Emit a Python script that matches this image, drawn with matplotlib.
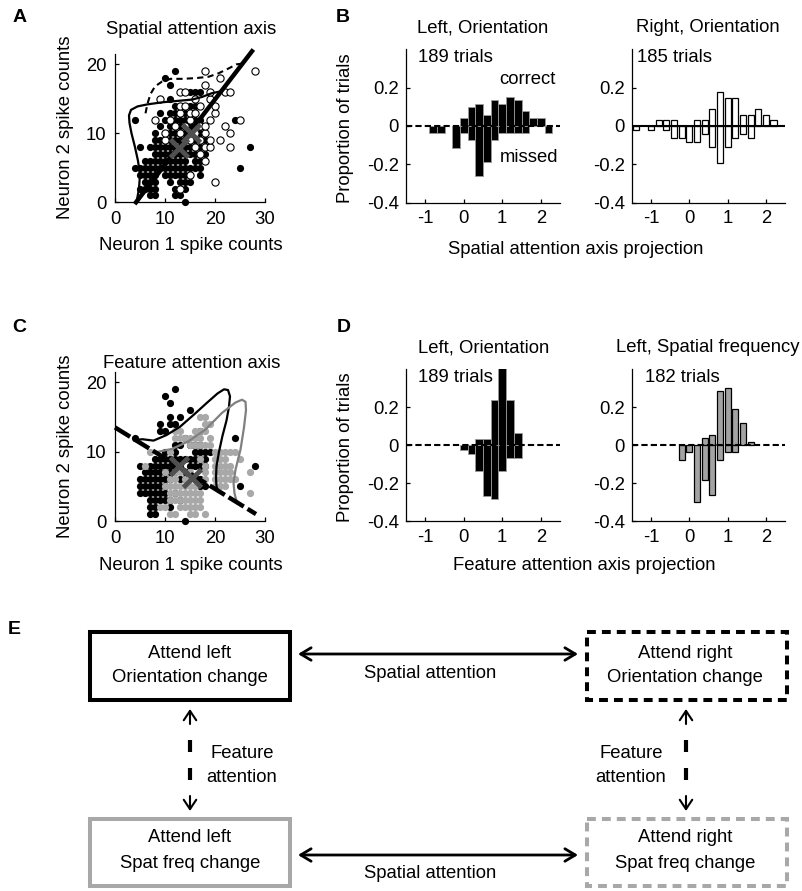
import numpy as np
import matplotlib.pyplot as plt
from matplotlib.patches import Rectangle

plt.rcParams['font.family'] = ['Liberation Sans', 'DejaVu Sans']
plt.rcParams['font.size'] = 13.3
plt.rcParams['axes.unicode_minus'] = False

# ---------------- data ----------------
# scatter A: spike counts as (neuron 2 count, [neuron 1 counts]) rows
a_filled_rows = [
    (0, [14]), (1, [7, 8, 12, 13]), (2, [5, 6, 7, 8, 12, 13, 14]),
    (3, [6, 7, 8, 11, 13, 14, 15]), (4, [5, 6, 7, 8, 10, 11, 12, 13, 14, 15, 17]),
    (5, [4, 5, 6, 7, 8, 9, 10, 11, 12, 13, 14, 15, 16, 17, 25]),
    (6, [6, 7, 8, 9, 10, 11, 12, 13, 14, 16, 17]),
    (7, [8, 9, 10, 11, 12, 13, 14, 15, 16, 18]),
    (8, [5, 7, 8, 9, 10, 11, 12, 13, 14, 15, 17, 19, 27]),
    (9, [8, 9, 10, 11, 12, 13, 14, 16, 17, 18]),
    (10, [8, 10, 11, 12, 13, 14, 15, 17]), (11, [9, 11, 12, 13, 15, 16]),
    (12, [4, 10, 11, 12, 13, 14, 16, 17, 24]), (13, [9, 11, 12, 14, 16]),
    (14, [12, 15, 16]), (15, [9, 11]), (16, [15, 16, 17]),
    (17, [11]), (18, [10]), (19, [12]),
]
a_open_rows = [
    (2, [13]), (3, [20]), (4, [15]), (6, [18]), (7, [17]),
    (8, [16, 18, 19, 23]), (9, [10, 15, 17, 19, 21]),
    (10, [10, 13, 16, 18, 23]), (11, [12, 14, 17, 18, 22]),
    (12, [8, 11, 15, 19, 25]), (13, [13, 15, 16, 20]),
    (14, [13, 14, 17, 20]), (15, [9, 16, 19]),
    (16, [13, 14, 19, 22, 23]), (17, [18]), (18, [21]), (19, [18, 28]),
]
a_axis_x = [4.2, 27.4]
a_axis_y = [0.0, 21.9]
a_solid_x = [4.3, 4.8, 5.0, 4.6, 4.0, 3.3, 2.9, 2.8, 3.2, 4.5, 6.5, 9.5, 12.5, 15.5, 17.5, 19.3, 21.2]
a_solid_y = [0.0, 2.0, 4.0, 6.0, 8.0, 10.0, 11.5, 12.6, 13.4, 13.9, 14.2, 14.5, 14.7, 14.9, 15.3, 15.8, 16.1]
a_dash_x = [6.1, 6.5, 7.1, 8.0, 9.4, 11.1, 13.4, 16.1, 18.7, 20.7, 22.7, 24.3, 25.5]
a_dash_y = [12.9, 14.3, 15.7, 16.8, 17.5, 17.9, 17.9, 18.0, 18.2, 18.7, 19.4, 20.0, 20.1]
a_means_x = [12.7, 15.1]
a_means_y = [7.8, 10.0]

# scatter C
c_black_rows = [
    (0, [14]), (1, [7, 8]), (2, [7, 8, 11]), (3, [7, 8, 9, 10, 11, 13]),
    (4, [5, 6, 7, 8, 9, 10, 12]), (5, [5, 6, 7, 8, 9, 10, 17, 18, 25]),
    (6, [5, 6, 7, 8, 9, 10, 11, 13, 14, 16, 17]),
    (7, [6, 7, 8, 9, 10, 11, 12, 14]),
    (8, [5, 7, 8, 9, 10, 11, 12, 13, 15, 16, 17, 18, 28]),
    (9, [8, 9, 10, 11, 12, 13, 14, 15, 16, 17, 18]),
    (10, [10, 12, 16, 17, 18, 19]), (11, [12, 13, 15, 16, 17]),
    (12, [4, 14, 24]), (13, [9, 10, 17]), (14, [9, 11, 12]),
    (15, [11, 13]), (16, [15]), (17, [11]), (18, [10]), (19, [12]),
]
c_gray_rows = [
    (1, [11, 12, 15, 16, 18]), (2, [9, 10, 13, 14, 15, 16, 17]),
    (3, [11, 12, 13, 14, 15, 16, 17]), (4, [11, 12, 13, 14, 15, 16, 17, 27]),
    (5, [10, 11, 12, 13, 14, 15, 16, 20, 21, 22]),
    (6, [11, 12, 14, 15, 18, 20, 21, 22, 23, 24]),
    (7, [10, 12, 13, 15, 18, 20, 21, 22, 23, 27]),
    (8, [6, 18, 20, 21, 22, 23]), (9, [17, 20, 21, 22, 25]),
    (10, [7, 11, 20, 21, 22, 23, 24]), (11, [15, 16, 17, 18, 19]),
    (12, [12, 13, 14, 15, 16, 17, 19]), (13, [12, 13, 16, 17, 18]),
    (14, [18, 19]), (15, [17, 18]),
]
c_axis_x = [0.0, 28.2]
c_axis_y = [13.5, 1.0]
c_black_x = [4.0, 5.5, 7.7, 10.3, 13.0, 15.7, 18.3, 20.5, 21.8, 22.6, 23.0, 22.8, 22.3, 21.5, 20.8, 20.3, 20.2, 20.3, 20.6]
c_black_y = [11.7, 11.8, 11.6, 12.4, 13.6, 15.3, 17.0, 18.4, 19.0, 18.9, 18.0, 16.5, 14.5, 12.3, 10.0, 7.9, 6.2, 5.0, 4.3]
c_gray_x = [8.0, 11.4, 14.7, 18.1, 21.4, 24.1, 25.4, 26.1, 26.2, 25.8, 25.1, 24.1, 23.7, 23.9, 24.4]
c_gray_y = [9.9, 10.4, 11.5, 13.2, 15.6, 17.1, 17.5, 17.2, 16.0, 13.5, 10.3, 7.4, 5.5, 4.0, 2.6]
c_means_x = [12.7, 15.4]
c_means_y = [7.9, 6.2]

# histograms: bin centres and proportions (correct > 0, missed < 0)
bins = [-1.4, -1.2, -1.0, -0.8, -0.6, -0.4, -0.2, 0.0, 0.2, 0.4,
        0.6, 0.8, 1.0, 1.2, 1.4, 1.6, 1.8, 2.0, 2.2]
bl_correct = [0, 0, 0, 0, 0, 0, 0, 0.042, 0.097, 0.117,
              0.057, 0.136, 0.117, 0.153, 0.136, 0.08, 0.04, 0.04, 0]
bl_missed = [0, 0, 0, -0.038, -0.038, 0, -0.113, -0.038, -0.073, -0.259,
             -0.186, -0.073, -0.038, -0.038, -0.038, -0.035, 0, 0, -0.038]
br_correct = [0, 0, 0, 0.031, 0.031, 0.031, 0, 0, 0.031, 0.031,
              0.089, 0.176, 0.148, 0.148, 0.057, 0.057, 0.089, 0.057, 0.031]
br_missed = [-0.021, 0, -0.021, 0, -0.021, -0.064, -0.064, -0.085, -0.085, -0.043,
             -0.108, -0.195, -0.108, -0.064, -0.043, -0.064, 0, 0, 0]
dl_correct = [0, 0, 0, 0, 0, 0, 0, 0, 0, 0.03,
              0.03, 0.237, 0.45, 0.237, 0.061, 0, 0, 0, 0]
dl_missed = [0, 0, 0, 0, 0, 0, 0, -0.026, -0.049, -0.135,
             -0.267, -0.286, -0.135, -0.07, -0.07, 0, 0, 0, 0]
dr_correct = [0, 0, 0, 0, 0, 0, 0, 0, 0, 0.035,
              0.054, 0.282, 0.30, 0.189, 0.114, 0.018, 0, 0, 0]
dr_missed = [0, 0, 0, 0, 0, 0, -0.077, -0.037, -0.30, -0.184,
             -0.261, -0.077, -0.037, -0.037, 0, 0, 0, 0, 0]

# ---------------- figure ----------------
W, H = 802, 891
fig = plt.figure(figsize=(W / 100, H / 100), dpi=100)


def px_axes(l, t, r, b):
    return fig.add_axes([l / W, 1 - b / H, (r - l) / W, (b - t) / H])


def style(ax, xpad, ypad):
    for s in ['top', 'right']:
        ax.spines[s].set_visible(False)
    for s in ['left', 'bottom']:
        ax.spines[s].set_linewidth(0.9)
    ax.tick_params(direction='in', length=3, width=0.9)
    ax.tick_params(axis='x', pad=xpad)
    ax.tick_params(axis='y', pad=ypad)


def expand(rows):
    xs, ys = [], []
    for y, row in rows:
        xs += row
        ys += [y] * len(row)
    return xs, ys


def scatter_axes(ax):
    ax.set_xlim(0, 30)
    ax.set_ylim(0, 21.5)
    ax.set_xticks([0, 10, 20, 30])
    ax.set_yticks([0, 10, 20])
    style(ax, 6.5, 6)


# Panel A
axA = px_axes(115, 54, 265, 202.3)
x, y = expand(a_filled_rows)
axA.scatter(x, y, s=27, color='k', lw=0, zorder=2, clip_on=False)
x, y = expand(a_open_rows)
axA.scatter(x, y, s=27, facecolor='white', edgecolor='k', lw=0.8, zorder=3, clip_on=False)
axA.plot(a_solid_x, a_solid_y, color='k', lw=1.6, zorder=4)
axA.plot(a_dash_x, a_dash_y, color='k', lw=1.5, dashes=(3, 2), zorder=4)
axA.plot(a_axis_x, a_axis_y, color='k', lw=3.2, zorder=5, clip_on=False)
axA.plot(a_means_x, a_means_y, 'x', color='#505050', ms=13, mew=3.5, zorder=6)
scatter_axes(axA)

# Panel C
axC = px_axes(115, 372, 265, 521)
x, y = expand(c_black_rows)
axC.scatter(x, y, s=27, color='k', lw=0, zorder=2, clip_on=False)
x, y = expand(c_gray_rows)
axC.scatter(x, y, s=27, color='#a8a8a8', lw=0, zorder=3, clip_on=False)
axC.plot(c_black_x, c_black_y, color='k', lw=1.6, zorder=4)
axC.plot(c_gray_x, c_gray_y, color='#808080', lw=1.6, zorder=4)
axC.plot(c_axis_x, c_axis_y, color='k', lw=3.2, dashes=(4, 1), zorder=5, clip_on=False)
axC.plot(c_means_x, c_means_y, 'x', color='#505050', ms=13, mew=3.5, zorder=6)
scatter_axes(axC)


def hist_panel(ax, pos, neg, width, face, edge, elw, zero_ls):
    xs = np.array(bins)
    p = np.array(pos)
    n = np.array(neg)
    for vals in (p, n):
        m = vals != 0
        ax.bar(xs[m], vals[m], width=width, color=face, edgecolor=edge, linewidth=elw, zorder=2)
    ax.plot([-1.5, 2.5], [0, 0], color='k', lw=1.5, ls=zero_ls, zorder=3,
            dashes=(3, 1.5) if zero_ls == '--' else (None, None))
    ax.set_xlim(-1.5, 2.5)
    ax.set_ylim(-0.4, 0.4)
    ax.set_xticks([-1, 0, 1, 2])
    ax.set_yticks([-0.4, -0.2, 0, 0.2])
    ax.set_yticklabels(['-0.4', '-0.2', '0', '0.2'])
    style(ax, 5.5, 5)


axBL = px_axes(406, 49.4, 560, 202.6)
hist_panel(axBL, bl_correct, bl_missed, 0.2, 'k', '#9a9a9a', 0.6, '--')
axBR = px_axes(632, 49.4, 785, 202.6)
hist_panel(axBR, br_correct, br_missed, 0.16, 'white', 'k', 0.9, '-')
axDL = px_axes(406, 369, 560, 521)
hist_panel(axDL, dl_correct, dl_missed, 0.2, 'k', '#9a9a9a', 0.6, '--')
axDR = px_axes(632, 369, 785, 521)
hist_panel(axDR, dr_correct, dr_missed, 0.16, '#a3a3a3', 'k', 0.9, '--')

# overlay in pixel coordinates for labels and panel E
ov = fig.add_axes([0, 0, 1, 1])
ov.set_xlim(0, W)
ov.set_ylim(H, 0)
ov.axis('off')

for letter, lx, ly in [('A', 20, 17), ('B', 343, 17), ('C', 19, 327), ('D', 344, 327), ('E', 14, 629)]:
    ov.text(lx, ly, letter, fontweight='bold', fontsize=14, ha='center', va='center')

ov.text(191, 30, 'Spatial attention axis', ha='center', va='center')
ov.text(191, 245, 'Neuron 1 spike counts', ha='center', va='center')
ov.text(65, 127, 'Neuron 2 spike counts', ha='center', va='center', rotation=90)
ov.text(192, 364, 'Feature attention axis', ha='center', va='center')
ov.text(191, 565, 'Neuron 1 spike counts', ha='center', va='center')
ov.text(65, 446, 'Neuron 2 spike counts', ha='center', va='center', rotation=90)

ov.text(483, 28, 'Left, Orientation', ha='center', va='center')
ov.text(708, 28, 'Right, Orientation', ha='center', va='center')
ov.text(418, 57, '189 trials', ha='left', va='center')
ov.text(637, 57, '185 trials', ha='left', va='center')
ov.text(527, 80, 'correct', ha='center', va='center')
ov.text(529, 157, 'missed', ha='center', va='center')
ov.text(576, 250, 'Spatial attention axis projection', ha='center', va='center')
ov.text(345, 128, 'Proportion of trials', ha='center', va='center', rotation=90)

ov.text(484, 348, 'Left, Orientation', ha='center', va='center')
ov.text(708, 348, 'Left, Spatial frequency', ha='center', va='center')
ov.text(418, 377, '189 trials', ha='left', va='center')
ov.text(645, 377, '182 trials', ha='left', va='center')
ov.text(584, 565, 'Feature attention axis projection', ha='center', va='center')
ov.text(345, 447, 'Proportion of trials', ha='center', va='center', rotation=90)

# Panel E boxes
gray = '#a8a8a8'
ov.add_patch(Rectangle((90, 632), 200, 68, fill=False, ec='k', lw=2.9))
ov.add_patch(Rectangle((587, 632), 200, 68, fill=False, ec='k', lw=2.9, ls=(0, (2.2, 1.5))))
ov.add_patch(Rectangle((90, 819), 200, 67, fill=False, ec=gray, lw=2.9))
ov.add_patch(Rectangle((587, 819), 200, 67, fill=False, ec=gray, lw=2.9, ls=(0, (2.2, 1.5))))

for cx in (190, 685):
    word = 'left' if cx < 400 else 'right'
    ov.text(cx, 653, 'Attend ' + word, ha='center', va='center')
    ov.text(cx, 677, 'Orientation change', ha='center', va='center')
    ov.text(cx, 838, 'Attend ' + word, ha='center', va='center')
    ov.text(cx, 863, 'Spat freq change', ha='center', va='center')

harrow = dict(arrowstyle='<->,head_length=0.5,head_width=0.3', lw=2, color='k',
              mutation_scale=15, shrinkA=0, shrinkB=0)
for ay, ty in [(654, 673), (855, 873)]:
    ov.annotate('', xy=(578, ay), xytext=(298, ay), arrowprops=harrow)
    ov.text(430, ty, 'Spatial attention', ha='center', va='center')

varrow = dict(arrowstyle='->,head_length=0.45,head_width=0.3', lw=1.5, color='k',
              mutation_scale=15, shrinkA=0, shrinkB=0)
for vx, tx in [(190, 242), (686, 631)]:
    ov.annotate('', xy=(vx, 709), xytext=(vx, 724), arrowprops=varrow)
    ov.annotate('', xy=(vx, 811), xytext=(vx, 796), arrowprops=varrow)
    ov.plot([vx, vx], [740, 752], color='k', lw=3, solid_capstyle='butt')
    ov.plot([vx, vx], [768, 780], color='k', lw=3, solid_capstyle='butt')
    ov.text(tx, 753, 'Feature', ha='center', va='center')
    ov.text(tx, 778, 'attention', ha='center', va='center')

fig.savefig('out.png', dpi=100)
